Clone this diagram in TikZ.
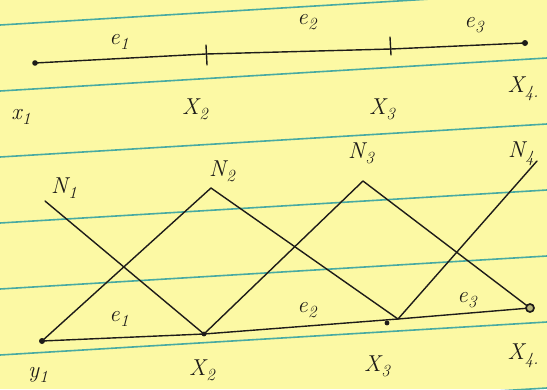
\documentclass[tikz,border=0pt]{standalone}
\usepackage{fontspec}
\usepackage{xcolor}
\definecolor{paper}{RGB}{252,249,164}
\definecolor{rulecol}{RGB}{72,170,162}
\definecolor{ink}{RGB}{30,28,25}
\newcommand\hlab[2]{#1\kern0.5pt\raisebox{-0.22em}{\fontsize{17}{17}\selectfont #2}}
\begin{document}
\begin{tikzpicture}[x=1pt,y=-1pt,
  inkline/.style={draw=ink,line width=1.4pt,line cap=round,line join=round},
  lbl/.style={text=ink,font=\fontsize{23}{23}\selectfont\itshape,inner sep=0pt},
  ruled/.style={draw=rulecol,line width=1.6pt},
  dotmark/.style={fill=ink}]
\useasboundingbox (0,0) rectangle (547,389);
\fill[paper] (0,0) rectangle (547,389);
\begin{scope}
\clip (0,0) rectangle (547,389);
\foreach \k in {0,...,6} \draw[ruled] (0,{25+66*\k}) -- (547,{-8+66*\k});
\end{scope}

% ---------- top: mesh line ----------
\coordinate (t1) at (35,63);
\coordinate (t2) at (206,54);
\coordinate (t3) at (391,49);
\coordinate (t4) at (525,43);
\coordinate (t2a) at (206,45);
\coordinate (t2b) at (207,65);
\coordinate (t3a) at (390,37);
\coordinate (t3b) at (391,55);
\draw[inkline] (t1) -- (t2) -- (t3) -- (t4);
\draw[inkline] (t2a) -- (t2b);
\draw[inkline] (t3a) -- (t3b);
\fill[dotmark] (t1) circle (2.8);
\fill[dotmark] (t4) circle (3);

\node[lbl] (te1) at (119,42) {\hlab{e}{1}};
\node[lbl] (te2) at (307,22) {\hlab{e}{2}};
\node[lbl] (te3) at (474,25) {\hlab{e}{3}};
\node[lbl] (tx1) at (21,117) {\hlab{x}{1}};
\node[lbl] (tx2) at (195,109) {\hlab{X}{2}};
\node[lbl] (tx3) at (382,109) {\hlab{X}{3}};
\node[lbl] (tx4) at (523,89) {\hlab{X}{4.}};

% ---------- bottom: shape functions ----------
\coordinate (b1) at (42,341);
\coordinate (b2) at (204,334);
\coordinate (b3) at (398,319);
\coordinate (b4) at (530,308);
\coordinate (p1) at (45,201);
\coordinate (p2) at (211,188);
\coordinate (p3) at (363,181);
\coordinate (p4) at (537,161);
\coordinate (b3dot) at (387,323);

\draw[inkline] (b1) -- (b2) -- (b3) -- (b4);
\draw[inkline] (p1) -- (b2);
\draw[inkline] (b1) -- (p2) -- (b3);
\draw[inkline] (b2) -- (p3) -- (b4);
\draw[inkline] (b3) -- (p4);
\fill[dotmark] (b1) circle (3);
\fill[dotmark] (b2) circle (2.4);
\fill[dotmark] (b3dot) circle (2.4);
\draw[draw=ink,line width=1.7pt,fill=paper!70!ink] (b4) circle (4);

\node[lbl] (n1) at (64,188) {\hlab{N}{1}};
\node[lbl] (n2) at (222,171) {\hlab{N}{2}};
\node[lbl] (n3) at (361,153) {\hlab{N}{3}};
\node[lbl] (n4) at (521,154) {\hlab{N}{4}};
\node[lbl] (be1) at (119,319) {\hlab{e}{1}};
\node[lbl] (be2) at (307,310) {\hlab{e}{2}};
\node[lbl] (be3) at (467,300) {\hlab{e}{3}};
\node[lbl] (by1) at (38,375) {\hlab{y}{1}};
\node[lbl] (bx2) at (202,370) {\hlab{X}{2}};
\node[lbl] (bx3) at (377,366) {\hlab{X}{3}};
\node[lbl] (bx4) at (523,356) {\hlab{X}{4.}};
\end{tikzpicture}
\end{document}
